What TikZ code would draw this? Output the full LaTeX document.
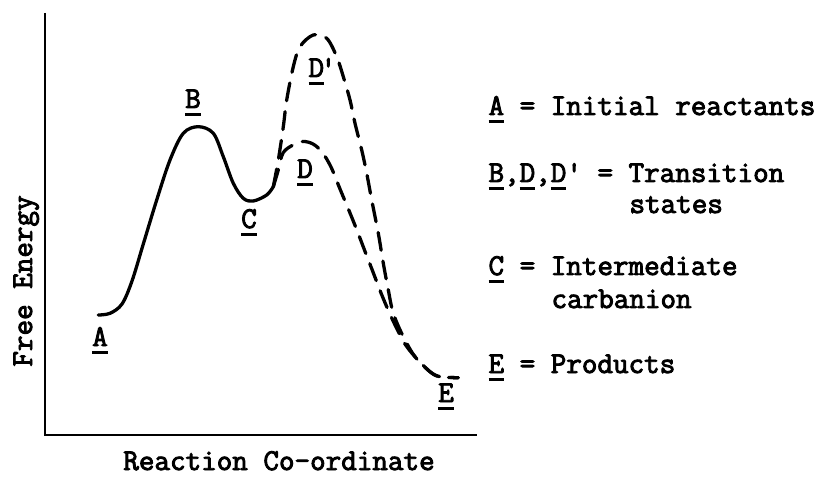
\documentclass[tikz,border=0pt]{standalone}
\usepackage{fontspec}
\setmonofont[FakeBold=3]{Latin Modern Mono}
\usetikzlibrary{positioning}
\newcommand{\ulet}[1]{\leavevmode\vtop{\hbox{#1}\kern4.3pt\hrule height 2.4pt}}
\tikzset{
  every picture/.style={x=0.03cm, y=0.03cm, line width=2.6pt},
  tw/.style={font=\ttfamily\bfseries\fontsize{25.8}{30}\selectfont, inner sep=0pt},
  lbl/.style={tw, anchor=base},
  legend/.style={tw, anchor=base west},
  axis/.style={line width=1.8pt},
  curve/.style={line width=2.8pt, line cap=round, line join=round},
  dashcurve/.style={curve, dash pattern=on 0.54cm off 0.33cm},
}
\begin{document}
\begin{tikzpicture}
  \useasboundingbox (0,0) rectangle (824,476);
  % axes
  \coordinate (top) at (45,463);
  \coordinate (origin) at (45,41);
  \coordinate (right) at (477,41);
  \draw[axis] (top) -- (origin) -- (right);
  \node[lbl, rotate=90] (ylab) at (32,195) {Free Energy};
  \node[lbl] (xlab) at (279,6) {Reaction Co-ordinate};
  % A -> B -> C
  \draw[curve] plot[smooth, tension=0.55] coordinates {(98.3,161) (110,162.7) (122,172) (132,195)
    (143.3,232) (156.7,276) (170,316) (183.3,342.7) (198.3,349.3) (213.3,342.7) (223.3,319.3)
    (233.3,292.7) (243.3,277.7) (253.3,275) (266.7,281) (273.3,289.3)};
  % C -> D' -> E
  \draw[dashcurve] plot[smooth, tension=0.55] coordinates {(273.3,289.3) (278.3,316) (283.3,349.3)
    (286.7,376) (293.3,409.3) (300,429.3) (313.3,441) (326.7,437.7) (336.7,419.3) (343.3,399.3)
    (350,376) (355,352.7) (361.7,326) (366.7,302.7) (371.7,276) (378.3,242.7) (383.3,212.7)
    (388.3,186) (393.3,162.7) (403.3,139.3) (415,119.3) (430,104.3) (440,99.3) (458.3,98.3)};
  % C -> D -> E
  \draw[dashcurve] plot[smooth, tension=0.55] coordinates {(273.3,289.3) (278,305) (283,323)
    (293,331) (303,334.5) (313,332) (322,324) (331,309) (340,287) (350,263) (358,243) (366,222)
    (373,204) (381,183) (389,164) (397,147) (405,132) (415,119.3) (430,104.3) (440,99.3) (458.3,98.3)};
  % point labels
  \node[lbl] (labA) at (100,130) {\ulet{A}};
  \node[lbl] (labB) at (193,368) {\ulet{B}};
  \node[lbl] (labC) at (249,248) {\ulet{C}};
  \node[lbl] (labD) at (305,298) {\ulet{D}};
  \node[legend] (labDp) at (307,399) {\ulet{D}\rlap{\kern-3pt'}};
  \node[lbl] (labE) at (446,74) {\ulet{E}};
  % key
  \node[legend] (keyA) at (487,361) {\ulet{A} = Initial reactants};
  \node[legend] (keyB) at (487,294) {\ulet{B},\ulet{D},\ulet{D}' = Transition};
  \node[legend] (keyB2) at (628,263) {states};
  \node[legend] (keyC) at (487,201) {\ulet{C} = Intermediate};
  \node[legend] (keyC2) at (550,168) {carbanion};
  \node[legend] (keyE) at (487,103) {\ulet{E} = Products};
\end{tikzpicture}
\end{document}
